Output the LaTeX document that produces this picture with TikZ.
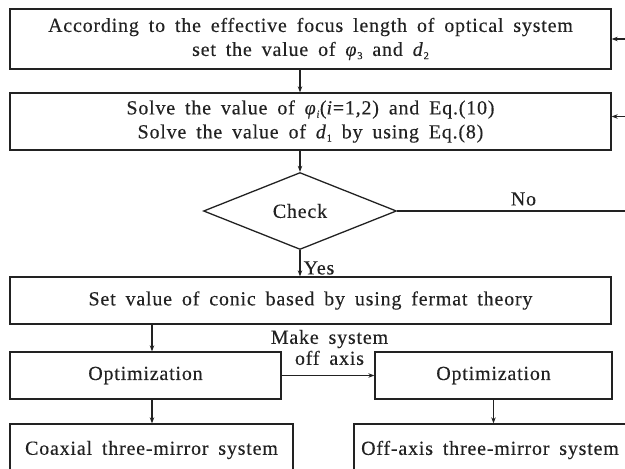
\documentclass[tikz,border=0pt]{standalone}
\usepackage{fontspec}
\setmainfont{Liberation Serif}[LetterSpace=4, WordSpace=1.7, FakeBold=0.3]
\usetikzlibrary{shapes.geometric,arrows.meta}
\definecolor{ink}{RGB}{34,34,34}
% small lowered index after a symbol
\newcommand{\lowidx}[1]{\raisebox{-0.35ex}{\fontsize{10.5}{10.5}\selectfont #1}}
\begin{document}
\begin{tikzpicture}[x=1pt,y=-1pt,
  font=\fontsize{20}{24}\selectfont,
  box/.style={draw=ink, line width=1.3pt, inner sep=0pt, align=center, text=ink},
  decide/.style={diamond, draw=ink, line width=1.3pt, inner sep=0pt, text=ink,
    minimum width=193pt, minimum height=77pt},
  conn/.style={draw=ink, line width=1.3pt},
  arr/.style={conn, -{Stealth[length=6pt,width=4.5pt]}},
  lbl/.style={text=ink, inner sep=0pt, align=center}]
\useasboundingbox (0,0) rectangle (625,469);
\clip (0,0) rectangle (625,469);

% process boxes
\node[box, minimum width=601pt, minimum height=60pt] (b1) at (310.5,39)
  {According to the effective focus length of optical system\\
   set the value of \textit{φ}\lowidx{3} and \textit{d}\lowidx{2}};
\node[box, minimum width=601pt, minimum height=57pt] (b2) at (310.5,121.5)
  {Solve the value of \textit{φ}\lowidx{\textit{i}}(\textit{i}=1,2) and Eq.(10)\\
   Solve the value of \textit{d}\lowidx{1} by using Eq.(8)};
\node[decide] (chk) at (300,211) {Check};
\node[box, minimum width=601pt, minimum height=47pt] (b3) at (310.5,300.5)
  {Set value of conic based by using fermat theory};
\node[box, minimum width=271pt, minimum height=47pt] (b4) at (145.5,375.5) {Optimization};
\node[box, minimum width=237pt, minimum height=47pt] (b5) at (493.5,375.5) {Optimization};
\node[box, minimum width=283pt, minimum height=52pt] (b6) at (151.5,450) {Coaxial three-mirror system};
\node[box, minimum width=272pt, minimum height=52pt] (b7) at (490,450) {Off-axis three-mirror system};

% helper columns
\coordinate (rail) at (640,0);
\coordinate (lcol) at (152,0);
\coordinate (in2) at ([yshift=5pt]b2.east);

% main flow
\draw[arr] (b1.south -| chk.north) -- (b2.north -| chk.north);
\draw[arr] (b2.south -| chk.north) -- (chk.north);
\draw[arr] (chk.south) -- (b3.north -| chk.south)
  node[lbl, pos=0.68, anchor=west, xshift=3pt] (yes) {Yes};
\draw[arr] (b3.south -| lcol) -- (b4.north -| lcol);
\draw[arr] (b4.south -| lcol) -- (b6.north -| lcol);
\draw[arr] (b4.east) -- (b5.west)
  node[lbl, midway, yshift=28pt, xshift=1.5pt, font=\fontsize{20}{21}\selectfont] (offax) {Make system\\off axis};
\draw[arr] (b5.south) -- (b7.north -| b5.south);

% feedback on failed check
\draw[conn] (chk.east) -- (chk.east -| rail)
  node[lbl, pos=0.52, yshift=12pt] (no) {No}
  -- (b1.east -| rail);
\draw[arr] (b1.east -| rail) -- (b1.east);
\draw[arr] (in2 -| rail) -- (in2);
\end{tikzpicture}
\end{document}
